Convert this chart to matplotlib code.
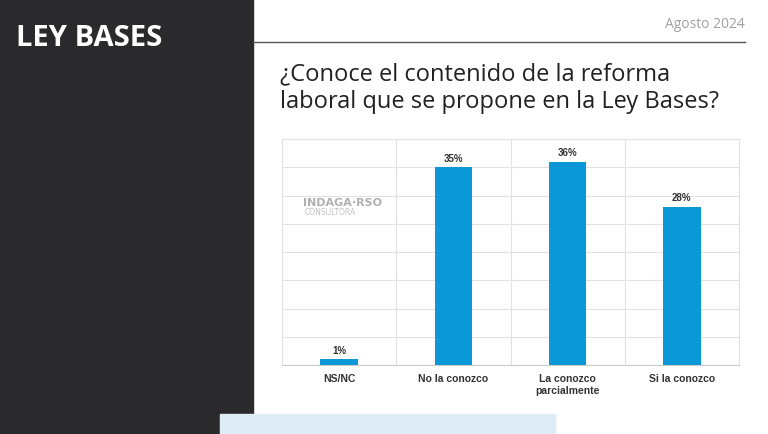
import matplotlib.pyplot as plt
from matplotlib.patches import Rectangle

categorias = ["NS/NC", "No la conozco", "La conozco\nparcialmente", "Si la conozco"]
valores = [1, 35, 36, 28]
etiquetas = ["1%", "35%", "36%", "28%"]

W, H = 768, 435
fig = plt.figure(figsize=(W / 100, H / 100), dpi=100)
fig.patch.set_facecolor("white")

# dark side panel
fig.patches.append(Rectangle((0, 0), 253 / W, 1, transform=fig.transFigure,
                             color="#2a2a2d", zorder=0))
fig.patches.append(Rectangle((220 / W, 0), 335 / W, 20 / H, transform=fig.transFigure,
                             color="#deedf5", zorder=1))
fig.text(16 / W, 1 - 38 / H, "LEY BASES", color="white", fontsize=21,
         fontweight="bold", va="center", family="Open Sans")
fig.text(745 / W, 1 - 25 / H, "Agosto 2024", color="#a0a0a0", fontsize=10,
         ha="right", va="center", family="Open Sans")
fig.add_artist(plt.Line2D([253 / W, 745 / W], [1 - 43 / H] * 2, color="#555555", lw=1))
fig.text(280 / W, 1 - 88 / H, "¿Conoce el contenido de la reforma\nlaboral que se propone en la Ley Bases?",
         color="#222222", fontsize=17, va="center", linespacing=1.2, family="Open Sans")

ax = fig.add_axes([282 / W, 1 - 366 / H, 457 / W, 226 / H])
x = range(len(categorias))
ax.bar(x, valores, width=0.33, color="#0a99d6", zorder=3)
for xi, v, t in zip(x, valores, etiquetas):
    ax.text(xi, v + 0.8, t, ha="center", va="bottom", fontsize=7, fontweight="bold",
            color="#333333", family="Liberation Sans")
ax.set_xlim(-0.5, 3.5)
ax.set_ylim(0, 40)
ax.set_yticks(range(0, 41, 5))
ax.set_yticklabels([])
ax.set_xticks(list(x))
ax.set_xticklabels(categorias, fontsize=7.5, fontweight="bold", color="#333333",
                   family="Liberation Sans")
ax.set_xticks([0.5, 1.5, 2.5], minor=True)
ax.tick_params(which="both", length=0, pad=6)
ax.grid(axis="y", color="#e2e2e2", lw=0.8, zorder=0)
ax.grid(axis="x", which="minor", color="#e2e2e2", lw=0.8, zorder=0)
for s in ax.spines.values():
    s.set_color("#e2e2e2")
ax.spines["bottom"].set_color("#cccccc")

fig.text(303 / W, 1 - 203 / H, "INDAGA·RSO", color="#b0b0b0", fontsize=8,
         fontweight="bold", va="center")
fig.text(305 / W, 1 - 213 / H, "CONSULTORA", color="#c0c0c0", fontsize=5.5, va="center")

fig.savefig("out.png", dpi=100)
